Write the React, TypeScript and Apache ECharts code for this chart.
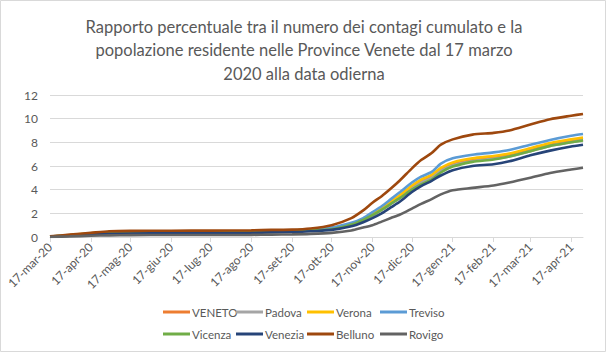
import React, { useEffect, useRef } from "react";
import * as echarts from "echarts";

const titleLines = [
  "Rapporto percentuale tra il numero dei contagi cumulato e la",
  "popolazione residente nelle Province Venete dal 17 marzo",
  "2020 alla data odierna",
];

const monthAbbr = ["gen", "feb", "mar", "apr", "mag", "giu", "lug", "ago", "set", "ott", "nov", "dic"];
const startDate = "2020-03-17";
const endDate = "2021-04-26";

const sampleDates = [
  "2020-03-17", "2020-04-01", "2020-04-17", "2020-05-01", "2020-05-17", "2020-06-17",
  "2020-07-17", "2020-08-17", "2020-09-01", "2020-09-17", "2020-10-01", "2020-10-17",
  "2020-11-01", "2020-11-10", "2020-11-17", "2020-11-24", "2020-12-01", "2020-12-08",
  "2020-12-17", "2020-12-24", "2021-01-01", "2021-01-08", "2021-01-17", "2021-02-01",
  "2021-02-17", "2021-03-01", "2021-03-17", "2021-04-01", "2021-04-17", "2021-04-26",
];

const veneto = [0.03, 0.14, 0.28, 0.36, 0.39, 0.4, 0.41, 0.44, 0.48, 0.52, 0.6,
  0.7, 1.1, 1.45, 1.85, 2.35, 2.85, 3.4, 4.2, 4.7, 5.1, 5.7, 6.15, 6.5, 6.7, 6.9, 7.35, 7.8, 8.1, 8.25];
const padova = [0.04, 0.15, 0.3, 0.38, 0.41, 0.42, 0.43, 0.45, 0.49, 0.53, 0.6,
  0.7, 1.05, 1.4, 1.8, 2.3, 2.8, 3.3, 4.1, 4.6, 5.0, 5.6, 6.05, 6.4, 6.6, 6.8, 7.25, 7.7, 8.0, 8.2];
const verona = [0.04, 0.17, 0.32, 0.42, 0.45, 0.46, 0.47, 0.49, 0.53, 0.57, 0.65,
  0.75, 1.15, 1.5, 1.95, 2.45, 3.0, 3.55, 4.35, 4.85, 5.25, 5.85, 6.3, 6.65, 6.85, 7.05, 7.5, 7.95, 8.25, 8.4];
const treviso = [0.03, 0.15, 0.3, 0.4, 0.43, 0.44, 0.45, 0.48, 0.52, 0.56, 0.65,
  0.8, 1.2, 1.6, 2.1, 2.6, 3.2, 3.8, 4.6, 5.1, 5.5, 6.2, 6.65, 6.95, 7.15, 7.35, 7.8, 8.2, 8.55, 8.7];
const vicenza = [0.03, 0.13, 0.27, 0.36, 0.39, 0.4, 0.41, 0.43, 0.47, 0.5, 0.56,
  0.65, 1.05, 1.45, 1.85, 2.3, 2.8, 3.3, 4.0, 4.45, 4.85, 5.45, 5.95, 6.35, 6.55, 6.8, 7.25, 7.7, 8.0, 8.15];
const venezia = [0.02, 0.1, 0.22, 0.28, 0.3, 0.31, 0.32, 0.35, 0.39, 0.42, 0.48,
  0.6, 0.9, 1.25, 1.6, 2.0, 2.5, 3.0, 3.8, 4.3, 4.75, 5.2, 5.65, 6.0, 6.15, 6.4, 6.9, 7.3, 7.65, 7.8];
const belluno = [0.05, 0.2, 0.35, 0.48, 0.52, 0.53, 0.54, 0.56, 0.6, 0.62, 0.72,
  1.0, 1.6, 2.25, 2.9, 3.45, 4.1, 4.8, 5.8, 6.5, 7.1, 7.8, 8.25, 8.65, 8.8, 9.0, 9.5, 9.95, 10.25, 10.4];
const rovigo = [0.01, 0.05, 0.1, 0.14, 0.16, 0.17, 0.17, 0.18, 0.2, 0.22, 0.26,
  0.35, 0.55, 0.8, 1.0, 1.3, 1.6, 1.9, 2.4, 2.8, 3.2, 3.6, 3.95, 4.15, 4.35, 4.6, 5.0, 5.4, 5.7, 5.85];

const seriesNames = ["VENETO", "Padova", "Verona", "Treviso", "Vicenza", "Venezia", "Belluno", "Rovigo"];
const seriesValues = [veneto, padova, verona, treviso, vicenza, venezia, belluno, rovigo];
const seriesColors = ["#ED7D31", "#A5A5A5", "#FFC000", "#5B9BD5", "#70AD47", "#264478", "#9E480E", "#636363"];

const yTicks = [0, 2, 4, 6, 8, 10, 12];

function buildCategories(): string[] {
  const out: string[] = [];
  const d = new Date(startDate + "T00:00:00Z");
  const end = new Date(endDate + "T00:00:00Z");
  while (d.getTime() <= end.getTime()) {
    out.push(d.toISOString().slice(0, 10));
    d.setUTCDate(d.getUTCDate() + 1);
  }
  return out;
}

function fmtLabel(iso: string): string {
  const [y, m, dd] = iso.split("-");
  return `${parseInt(dd, 10)}-${monthAbbr[parseInt(m, 10) - 1]}-${y.slice(2)}`;
}

const FONT = "Lato";
const TXT = "#595959";

export default function App() {
  const ref = useRef<HTMLDivElement>(null);
  useEffect(() => {
    if (!ref.current) return;
    const chart = echarts.init(ref.current, undefined, { renderer: "svg" });
    const categories = buildCategories();
    const isSeventeenth = (_i: number, v: string) => v.slice(8, 10) === "17";

    const series = seriesNames.map((name, si) => {
      const map = new Map<string, number>();
      sampleDates.forEach((d, i) => map.set(d, seriesValues[si][i]));
      return {
        name,
        type: "line",
        data: categories.map((c) => (map.has(c) ? map.get(c) : null)),
        connectNulls: true,
        showSymbol: false,
        symbol: "none",
        smooth: 0.25,
        lineStyle: { width: 2.6, color: seriesColors[si] },
        itemStyle: { color: seriesColors[si] },
      };
    });

    const columnsLeft = [163, 236, 307, 380];
    const legends = columnsLeft.map((left, col) => ({
      orient: "vertical",
      left,
      top: 301,
      padding: [5, 0, 5, 0],
      itemGap: 10,
      itemWidth: 27,
      itemHeight: 3,
      icon: "rect",
      data: [seriesNames[col], seriesNames[col + 4]],
      textStyle: { color: TXT, fontFamily: FONT, fontSize: 11.5, padding: [0, 0, 0, -3] },
      selectedMode: false,
    }));

    chart.setOption({
      animation: false,
      backgroundColor: "#ffffff",
      color: seriesColors,
      title: {
        text: titleLines.join("\n"),
        left: "center",
        top: 10,
        textStyle: {
          color: TXT,
          fontFamily: FONT,
          fontSize: 16.5,
          fontWeight: "normal",
          lineHeight: 23.5,
        },
      },
      legend: legends,
      grid: { left: 50, right: 25, top: 95, bottom: 116, containLabel: false },
      xAxis: {
        type: "category",
        data: categories,
        boundaryGap: false,
        axisLine: { lineStyle: { color: "#D9D9D9", width: 1 } },
        axisTick: { show: true, interval: isSeventeenth, length: 5, lineStyle: { color: "#D9D9D9" } },
        axisLabel: {
          interval: isSeventeenth,
          rotate: 45,
          color: TXT,
          fontFamily: FONT,
          fontSize: 12,
          margin: 8,
          formatter: (v: string) => fmtLabel(v),
        },
        splitLine: { show: false },
      },
      yAxis: {
        type: "value",
        min: yTicks[0],
        max: yTicks[yTicks.length - 1],
        interval: 2,
        axisLine: { show: false },
        axisTick: { show: false },
        axisLabel: { color: TXT, fontFamily: FONT, fontSize: 12, margin: 12 },
        splitLine: { lineStyle: { color: "#D9D9D9", width: 1 } },
      },
      graphic: [
        {
          type: "rect",
          shape: { x: 0.5, y: 0.5, width: 605, height: 351 },
          style: { fill: "none", stroke: "#D9D9D9", lineWidth: 1 },
          silent: true,
          z: 100,
        },
      ],
      series,
    });
    return () => chart.dispose();
  }, []);
  return (
    <div
      ref={ref}
      style={{ position: "fixed", left: 0, top: 0, width: 608, height: 353, background: "#fff" }}
    />
  );
}
